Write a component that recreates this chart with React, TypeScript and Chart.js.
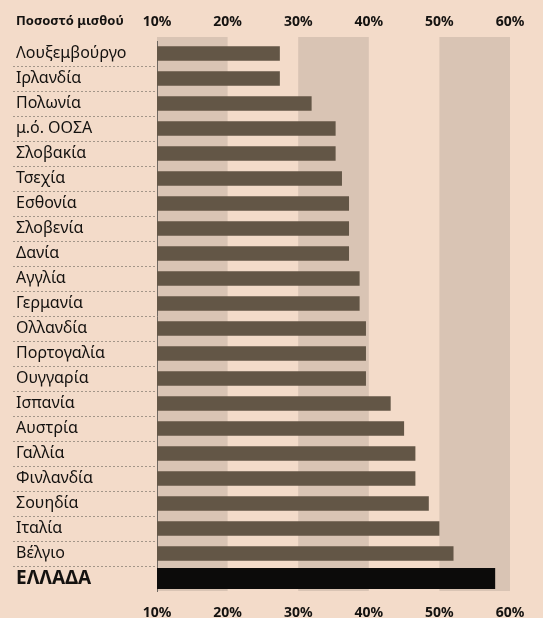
import React, { useEffect, useRef } from 'react';
import { Chart, registerables } from 'chart.js';

Chart.register(...registerables);

// ---- data ----
const categories: string[] = [
  'Λουξεμβούργο',
  'Ιρλανδία',
  'Πολωνία',
  'μ.ό. ΟΟΣΑ',
  'Σλοβακία',
  'Τσεχία',
  'Εσθονία',
  'Σλοβενία',
  'Δανία',
  'Αγγλία',
  'Γερμανία',
  'Ολλανδία',
  'Πορτογαλία',
  'Ουγγαρία',
  'Ισπανία',
  'Αυστρία',
  'Γαλλία',
  'Φινλανδία',
  'Σουηδία',
  'Ιταλία',
  'Βέλγιο',
  'ΕΛΛΑΔΑ',
];

const values: number[] = [
  27.4, 27.4, 31.9, 35.3, 35.3, 36.2, 37.2, 37.2, 37.2, 38.7, 38.7,
  39.6, 39.6, 39.6, 43.1, 45.0, 46.6, 46.6, 48.5, 50.0, 52.0, 57.9,
];

const highlightLabel = 'ΕΛΛΑΔΑ';
const axisMin = 10;
const axisMax = 60;
const axisStep = 10;
const bandRanges: [number, number][] = [
  [10, 20],
  [30, 40],
  [50, 60],
];
const titleText = 'Ποσοστό μισθού';

// ---- styling ----
const W = 543;
const H = 618;
const FONT = '"Noto Sans", "DejaVu Sans", sans-serif';
const BG = '#f3dbc9';
const BAND = '#d9c4b4';
const BAR = '#635646';
const BAR_HI = '#0c0b0a';
const TEXT = '#141210';
const DOTS = '#a39689';

const bandsPlugin = {
  id: 'bands',
  beforeDraw(chart: any) {
    const { ctx, chartArea, scales } = chart;
    const x = scales.x;
    ctx.save();
    ctx.fillStyle = BAND;
    for (const [a, b] of bandRanges) {
      const x1 = x.getPixelForValue(a);
      const x2 = x.getPixelForValue(b);
      ctx.fillRect(x1, chartArea.top - 4, x2 - x1, chartArea.bottom - chartArea.top + 4);
    }
    ctx.restore();
  },
};

const titlePlugin = {
  id: 'cornerTitle',
  afterDraw(chart: any) {
    const { ctx } = chart;
    ctx.save();
    ctx.font = `bold 13px ${FONT}`;
    ctx.fillStyle = TEXT;
    ctx.textAlign = 'left';
    ctx.textBaseline = 'middle';
    ctx.fillText(titleText, 16, 21);
    ctx.restore();
  },
};

export default function App() {
  const canvasRef = useRef<HTMLCanvasElement | null>(null);

  useEffect(() => {
    document.body.style.margin = '0';
    document.body.style.background = BG;
    const canvas = canvasRef.current;
    if (!canvas) return;
    const hi = categories.indexOf(highlightLabel);
    const mainData = values.map((v, i) => (i === hi ? null : v));
    const hiData = values.map((v, i) => (i === hi ? v : null));

    const tickFont = { family: FONT, size: 14, weight: 'bold' as const };
    const tickCb = (v: any) => `${v}%`;

    const chart = new Chart(canvas, {
      type: 'bar',
      data: {
        labels: categories,
        datasets: [
          {
            data: mainData,
            backgroundColor: BAR,
            barPercentage: 0.58,
            categoryPercentage: 1,
            grouped: false,
            xAxisID: 'x',
          },
          {
            data: hiData,
            backgroundColor: BAR_HI,
            barPercentage: 0.84,
            categoryPercentage: 1,
            grouped: false,
            xAxisID: 'x',
          },
        ],
      },
      options: {
        indexAxis: 'y',
        animation: false,
        responsive: true,
        maintainAspectRatio: false,
        layout: { padding: { left: 16, right: 33, top: 0, bottom: 0 } },
        plugins: {
          legend: { display: false },
          tooltip: { enabled: false },
          title: { display: false },
        },
        scales: {
          x: {
            type: 'linear',
            position: 'bottom',
            min: axisMin,
            max: axisMax,
            grid: { display: false },
            border: { display: false },
            ticks: { stepSize: axisStep, callback: tickCb, font: tickFont, color: TEXT, padding: 6 },
            afterFit: (s: any) => {
              s.height = 27;
            },
          },
          x2: {
            type: 'linear',
            axis: 'x',
            position: 'top',
            min: axisMin,
            max: axisMax,
            grid: { display: false },
            border: { display: false },
            ticks: { stepSize: axisStep, callback: tickCb, font: tickFont, color: TEXT, padding: 3 },
            afterFit: (s: any) => {
              s.height = 41;
            },
          },
          y: {
            type: 'category',
            position: 'left',
            offset: true,
            grid: {
              offset: true,
              drawOnChartArea: false,
              drawTicks: true,
              tickLength: 144,
              tickWidth: 1,
              tickBorderDash: [2, 2],
              color: (c: any) =>
                c.index === undefined || c.index === 0 ? 'rgba(0,0,0,0)' : DOTS,
              tickColor: (c: any) =>
                c.index === undefined || c.index === 0 ? 'rgba(0,0,0,0)' : DOTS,
            },
            border: { display: true, color: '#6e6760', width: 1 },
            ticks: {
              crossAlign: 'far',
              color: TEXT,
              autoSkip: false,
              font: (c: any) =>
                c.index === hi
                  ? { family: FONT, size: 19, weight: 'bold' }
                  : { family: FONT, size: 16 },
            },
            afterFit: (s: any) => {
              s.width = 141;
            },
          },
        },
      } as any,
      plugins: [bandsPlugin, titlePlugin],
    });
    return () => chart.destroy();
  }, []);

  return (
    <div style={{ position: 'relative', width: W, height: H, background: BG }}>
      <canvas ref={canvasRef} />
    </div>
  );
}
